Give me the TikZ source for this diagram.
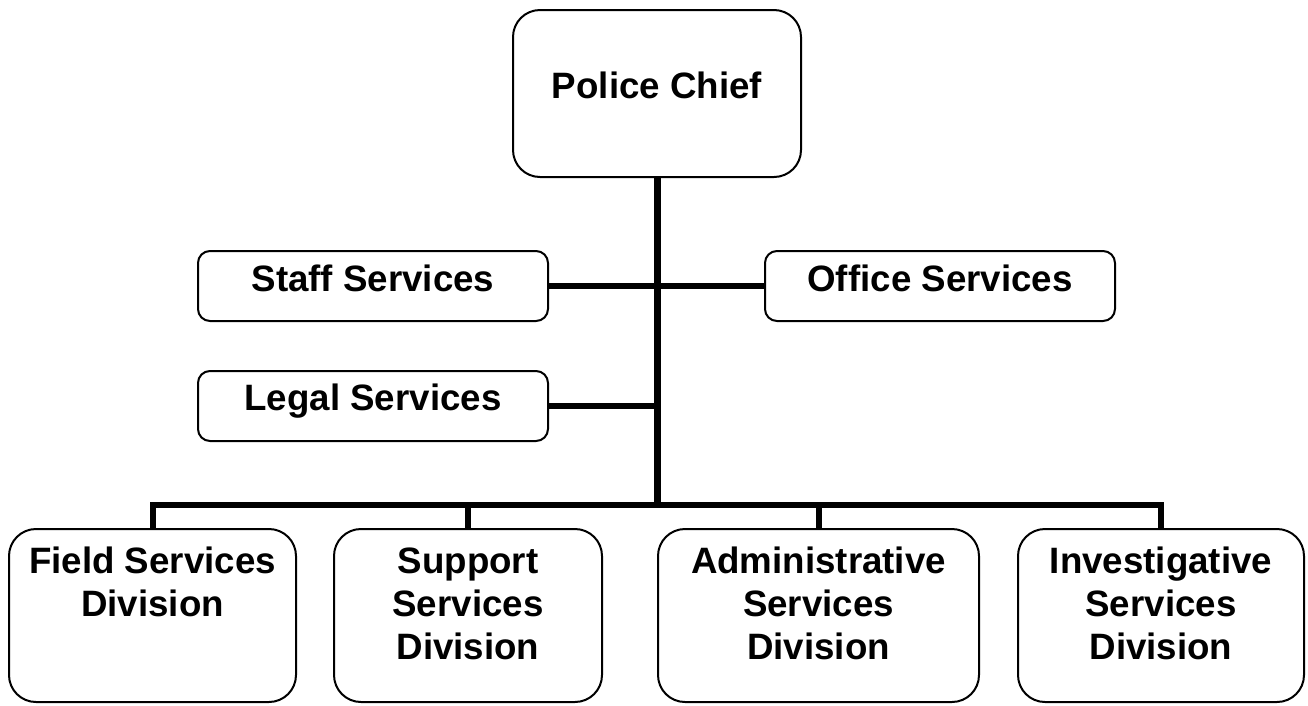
\documentclass[tikz,border=0pt]{standalone}
\usepackage{fontspec}
\setmainfont{Liberation Sans}
\usetikzlibrary{backgrounds}
\begin{document}
\begin{tikzpicture}[x=1pt,y=-1pt,
  box/.style={draw, line width=2pt, fill=white, rounded corners=12pt, inner sep=0pt},
  bigbox/.style={box, rounded corners=27pt},
  lbl/.style={anchor=base, inner sep=0pt, font=\fontsize{36.7}{43}\selectfont\bfseries, align=center},
  link/.style={line width=6pt, line join=miter},
  trunk/.style={line width=7pt}]
\useasboundingbox (0,0) rectangle (1308,705);

% boxes
\node[bigbox, minimum width=288pt, minimum height=167pt] (chief) at (657,93.5) {};
\node[box, minimum width=350pt, minimum height=70pt] (staff) at (373,286) {};
\node[box, minimum width=350pt, minimum height=70pt] (office) at (940,286) {};
\node[box, minimum width=350pt, minimum height=70pt] (legal) at (373,406) {};
\node[bigbox, minimum width=287pt, minimum height=173pt] (field) at (152.5,615.5) {};
\node[bigbox, minimum width=268pt, minimum height=173pt] (support) at (468,615.5) {};
\node[bigbox, minimum width=321pt, minimum height=173pt] (admin) at (818.5,615.5) {};
\node[bigbox, minimum width=286pt, minimum height=173pt] (inv) at (1161,615.5) {};

% connectors
\coordinate (bar) at (chief.south |- 0,505);
\begin{scope}[on background layer]
\draw[trunk] (chief.south) -- (bar);
\draw[link] (staff.east) -- (office.west);
\draw[link] (legal.east) -- (legal.east -| chief.south);
\draw[link] (bar) -| (field.north);
\draw[link] (bar) -| (support.north);
\draw[link] (bar) -| (admin.north);
\draw[link] (bar) -| (inv.north);
\end{scope}

% labels
\node[lbl] (tChief) at (657,98) {Police Chief};
\node[lbl] (tStaff) at (373,291) {Staff Services};
\node[lbl] (tOffice) at (940,291) {Office Services};
\node[lbl] (tLegal) at (373,410) {Legal Services};
\node[lbl] (tField) at (152.5,616) {Field Services\\Division};
\node[lbl] (tSupport) at (468,659) {Support\\Services\\Division};
\node[lbl] (tAdmin) at (818.5,659) {Administrative\\Services\\Division};
\node[lbl] (tInv) at (1161,659) {Investigative\\Services\\Division};
\end{tikzpicture}
\end{document}
